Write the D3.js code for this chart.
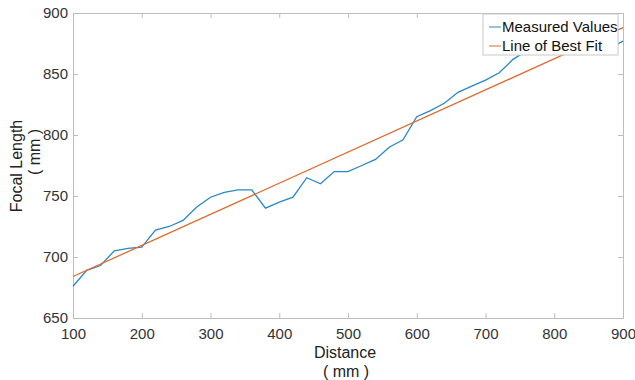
<!DOCTYPE html>
<html>
<head>
<meta charset="utf-8">
<script src="https://cdn.jsdelivr.net/npm/d3@7"></script>
<style>
  body { margin: 0; background: #fff; }
  svg text { font-family: "Liberation Sans", Arial, Helvetica, sans-serif; }
</style>
</head>
<body>
<div id="chart"></div>
<script>
// measured focal lengths (mm) at each distance (mm)
const distances = [100, 120, 140, 160, 180, 200, 220, 240, 260, 280, 300, 320, 340, 360, 380, 400,
                   420, 440, 460, 480, 500, 520, 540, 560, 580, 600, 620, 640, 660, 680, 700, 720,
                   740, 760, 780, 800, 820, 840, 860, 880, 900];
const measured = [676, 689, 693, 705, 707, 708, 722, 725, 730, 741, 749, 753, 755, 755, 740, 745,
                  749, 765, 760, 770, 770, 775, 780, 790, 796, 815, 820, 826, 835, 840, 845, 851,
                  862, 869, 873, 876, 878, 879, 876, 871, 877];
// best fit line end points
const fitX = [100, 900];
const fitY = [684, 888];

const xTicks = [100, 200, 300, 400, 500, 600, 700, 800, 900];
const yTicks = [650, 700, 750, 800, 850, 900];
const seriesNames = ["Measured Values", "Line of Best Fit"];
const seriesColors = ["#2a87c6", "#e0692f"];

const width = 635, height = 380;
const margin = {top: 13, right: 12, bottom: 62, left: 73};
const iw = width - margin.left - margin.right;
const ih = height - margin.top - margin.bottom;

const svg = d3.select("#chart").append("svg")
    .attr("width", width)
    .attr("height", height);

const g = svg.append("g").attr("transform", `translate(${margin.left},${margin.top})`);

const x = d3.scaleLinear().domain([100, 900]).range([0, iw]);
const y = d3.scaleLinear().domain([650, 900]).range([ih, 0]);

// axes, matlab style (ticks inside, box)
const axisColor = "#bdbdbd";
const axBottom = g.append("g").attr("transform", `translate(0,${ih})`)
    .call(d3.axisBottom(x).tickValues(xTicks).tickSizeInner(-5).tickSizeOuter(0).tickPadding(10));
const axLeft = g.append("g")
    .call(d3.axisLeft(y).tickValues(yTicks).tickSizeInner(-5).tickSizeOuter(0).tickPadding(5));
const axTop = g.append("g")
    .call(d3.axisTop(x).tickValues(xTicks).tickSizeInner(-5).tickSizeOuter(0).tickFormat(""));
const axRight = g.append("g").attr("transform", `translate(${iw},0)`)
    .call(d3.axisRight(y).tickValues(yTicks).tickSizeInner(-5).tickSizeOuter(0).tickFormat(""));

[axBottom, axLeft, axTop, axRight].forEach(a => {
    a.select(".domain").attr("stroke", axisColor);
    a.selectAll(".tick line").attr("stroke", axisColor);
    a.selectAll(".tick text").attr("fill", "#333").style("font-size", "15px");
});

// lines
const line = d3.line().x(d => x(d[0])).y(d => y(d[1]));

g.append("path")
    .datum(distances.map((d, i) => [d, measured[i]]))
    .attr("d", line)
    .attr("fill", "none")
    .attr("stroke", seriesColors[0])
    .attr("stroke-width", 1.3);

g.append("path")
    .datum(fitX.map((d, i) => [d, fitY[i]]))
    .attr("d", line)
    .attr("fill", "none")
    .attr("stroke", seriesColors[1])
    .attr("stroke-width", 1.3);

// axis labels
svg.append("text")
    .attr("x", 345).attr("y", 358)
    .attr("text-anchor", "middle")
    .style("font-size", "16px").attr("fill", "#222")
    .text("Distance");
svg.append("text")
    .attr("x", 346).attr("y", 377)
    .attr("text-anchor", "middle")
    .style("font-size", "16px").attr("fill", "#222")
    .text("( mm )");

svg.append("text")
    .attr("transform", "translate(22,166) rotate(-90)")
    .attr("text-anchor", "middle")
    .style("font-size", "16px").attr("fill", "#222")
    .text("Focal Length");
svg.append("text")
    .attr("transform", "translate(40,152) rotate(-90)")
    .attr("text-anchor", "middle")
    .style("font-size", "16px").attr("fill", "#222")
    .text("( mm )");

// legend
const legend = svg.append("g").attr("transform", "translate(483,14)");
legend.append("rect")
    .attr("width", 135).attr("height", 41)
    .attr("fill", "#fff")
    .attr("stroke", "#c8c8c8");
seriesNames.forEach((name, i) => {
    const ly = 13 + i * 19;
    legend.append("line")
        .attr("x1", 6).attr("x2", 18)
        .attr("y1", ly).attr("y2", ly)
        .attr("stroke", seriesColors[i]).attr("stroke-width", 1);
    legend.append("text")
        .attr("x", 19).attr("y", ly + 5)
        .style("font-size", "15px").attr("fill", "#111")
        .text(name);
});
</script>
</body>
</html>
